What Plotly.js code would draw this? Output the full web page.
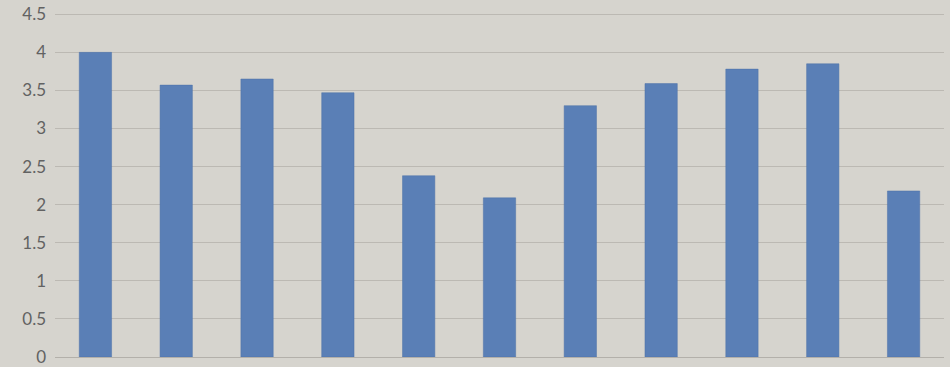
<!DOCTYPE html>
<html>
<head>
<meta charset="utf-8">
<script src="https://cdn.plot.ly/plotly-3.0.1.min.js"></script>
<style>html,body{margin:0;padding:0;background:#d6d4ce;}#chart{width:950px;height:367px;}</style>
</head>
<body>
<div id="chart"></div>
<script>
const categories = ["1","2","3","4","5","6","7","8","9","10","11"];
const values = [4.0, 3.57, 3.65, 3.47, 2.38, 2.09, 3.30, 3.59, 3.78, 3.85, 2.18];
const yTicks = [0, 0.5, 1, 1.5, 2, 2.5, 3, 3.5, 4, 4.5];
const yTickLabels = ["0", "0.5", "1", "1.5", "2", "2.5", "3", "3.5", "4", "4.5"];

Plotly.newPlot("chart", [{
  type: "bar",
  x: categories,
  y: values,
  marker: {color: "#5a7fb6", line: {color: "#4f73a9", width: 0.5}},
  hoverinfo: "y"
}], {
  width: 950,
  height: 367,
  margin: {l: 55, r: 6, t: 12, b: 10, pad: 0},
  paper_bgcolor: "#d6d4ce",
  plot_bgcolor: "#d6d4ce",
  bargap: 0.6,
  showlegend: false,
  font: {family: "Lato, Open Sans, sans-serif", color: "#626262", size: 17},
  xaxis: {
    type: "category",
    showticklabels: false,
    showgrid: false,
    zeroline: false,
    showline: true,
    linecolor: "#b3b0aa",
    linewidth: 1,
    ticks: ""
  },
  yaxis: {
    range: [0, 4.53],
    tickvals: yTicks,
    ticktext: yTickLabels,
    showgrid: true,
    gridcolor: "#bcb9b3",
    gridwidth: 1,
    zeroline: false,
    showline: false,
    ticks: "",
    ticklabelstandoff: 8
  }
}, {displayModeBar: false, staticPlot: true});
</script>
</body>
</html>
